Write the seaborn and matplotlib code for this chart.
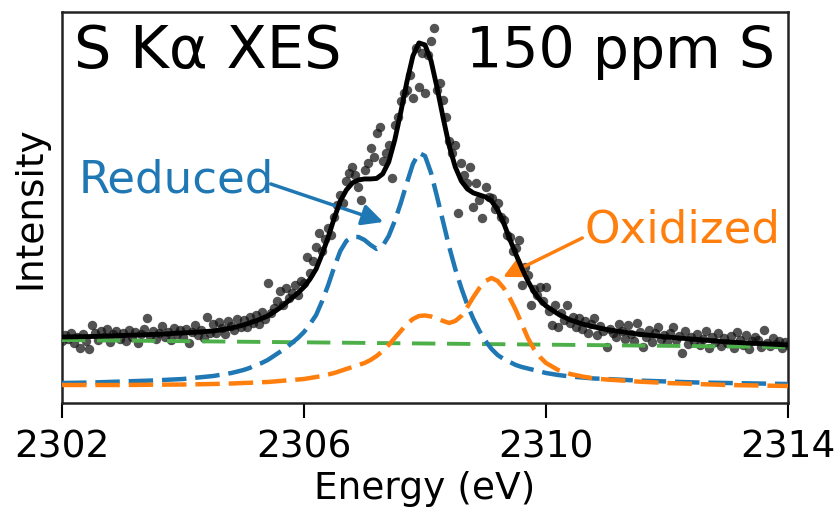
import numpy as np
import pandas as pd
import seaborn as sns
import matplotlib.pyplot as plt

# fit curves (energy in eV, intensity in arbitrary units)
fit_energy = [2302.0, 2302.5, 2303.0, 2303.5, 2304.0, 2304.5, 2304.8,
              2305.0, 2305.1, 2305.2, 2305.3, 2305.4, 2305.5, 2305.6, 2305.7, 2305.8, 2305.9,
              2306.0, 2306.1, 2306.2, 2306.3, 2306.4, 2306.5, 2306.6, 2306.7, 2306.8, 2306.9,
              2307.0, 2307.1, 2307.2, 2307.3, 2307.4, 2307.5, 2307.6, 2307.7, 2307.8, 2307.9,
              2308.0, 2308.1, 2308.2, 2308.3, 2308.4, 2308.5, 2308.6, 2308.7, 2308.8, 2308.9,
              2309.0, 2309.1, 2309.2, 2309.3, 2309.4, 2309.5, 2309.6, 2309.7, 2309.8, 2309.9,
              2310.0, 2310.2, 2310.4, 2310.6, 2310.8, 2311.0, 2311.5, 2312.0, 2312.5, 2313.0,
              2313.5, 2314.0]
total_fit = [0.66, 0.665, 0.675, 0.685, 0.70, 0.72, 0.75,
             0.78, 0.80, 0.82, 0.845, 0.87, 0.91, 0.95, 1.00, 1.05, 1.10,
             1.16, 1.24, 1.34, 1.49, 1.66, 1.85, 2.02, 2.13, 2.20, 2.23,
             2.24, 2.24, 2.245, 2.29, 2.41, 2.63, 2.91, 3.21, 3.47, 3.60,
             3.58, 3.42, 3.15, 2.85, 2.57, 2.36, 2.22, 2.14, 2.10, 2.08,
             2.06, 2.02, 1.93, 1.80, 1.64, 1.49, 1.35, 1.22, 1.11, 1.03,
             0.97, 0.89, 0.83, 0.79, 0.76, 0.735, 0.69, 0.66, 0.635, 0.61,
             0.595, 0.58]
reduced = [0.20, 0.205, 0.215, 0.225, 0.24, 0.27, 0.30,
           0.33, 0.35, 0.38, 0.40, 0.43, 0.47, 0.51, 0.55, 0.60, 0.65,
           0.71, 0.79, 0.88, 1.02, 1.18, 1.36, 1.52, 1.62, 1.66, 1.66,
           1.63, 1.58, 1.54, 1.57, 1.67, 1.82, 2.00, 2.20, 2.39, 2.50,
           2.47, 2.30, 2.06, 1.81, 1.56, 1.34, 1.15, 0.98, 0.84, 0.72,
           0.62, 0.54, 0.48, 0.44, 0.41, 0.38, 0.36, 0.345, 0.33, 0.315,
           0.30, 0.28, 0.265, 0.255, 0.245, 0.24, 0.225, 0.215, 0.205, 0.20,
           0.195, 0.19]
oxidized = [0.18, 0.18, 0.18, 0.183, 0.185, 0.19, 0.195,
            0.20, 0.202, 0.205, 0.208, 0.21, 0.215, 0.22, 0.225, 0.23, 0.235,
            0.24, 0.25, 0.26, 0.27, 0.285, 0.30, 0.32, 0.34, 0.36, 0.38,
            0.40, 0.43, 0.47, 0.52, 0.58, 0.65, 0.72, 0.79, 0.84, 0.87,
            0.875, 0.865, 0.845, 0.82, 0.80, 0.82, 0.87, 0.96, 1.06, 1.15,
            1.22, 1.25, 1.22, 1.15, 1.05, 0.93, 0.79, 0.65, 0.54, 0.46,
            0.40, 0.33, 0.29, 0.265, 0.245, 0.235, 0.215, 0.20, 0.19, 0.18,
            0.175, 0.17]
bg_energy = [2302.0, 2314.0]
background = [0.63, 0.56]

# measured spectrum
scan_energy = [
    2302.00, 2302.05, 2302.10, 2302.15, 2302.20, 2302.25, 2302.30, 2302.35, 2302.40, 2302.45,
    2302.50, 2302.55, 2302.60, 2302.65, 2302.70, 2302.75, 2302.80, 2302.85, 2302.90, 2302.95,
    2303.00, 2303.05, 2303.10, 2303.15, 2303.20, 2303.25, 2303.30, 2303.35, 2303.40, 2303.45,
    2303.50, 2303.55, 2303.60, 2303.65, 2303.70, 2303.75, 2303.80, 2303.85, 2303.90, 2303.95,
    2304.00, 2304.05, 2304.10, 2304.15, 2304.20, 2304.25, 2304.30, 2304.35, 2304.40, 2304.45,
    2304.50, 2304.55, 2304.60, 2304.65, 2304.70, 2304.75, 2304.80, 2304.85, 2304.90, 2304.95,
    2305.00, 2305.05, 2305.10, 2305.15, 2305.20, 2305.25, 2305.30, 2305.35, 2305.40, 2305.45,
    2305.50, 2305.55, 2305.60, 2305.65, 2305.70, 2305.75, 2305.80, 2305.85, 2305.90, 2305.95,
    2306.00, 2306.05, 2306.10, 2306.15, 2306.20, 2306.25, 2306.30, 2306.35, 2306.40, 2306.45,
    2306.50, 2306.55, 2306.60, 2306.65, 2306.70, 2306.75, 2306.80, 2306.85, 2306.90, 2306.95,
    2307.00, 2307.05, 2307.10, 2307.15, 2307.20, 2307.25, 2307.30, 2307.35, 2307.40, 2307.45,
    2307.50, 2307.55, 2307.60, 2307.65, 2307.70, 2307.75, 2307.80, 2307.85, 2307.90, 2307.95,
    2308.00, 2308.05, 2308.10, 2308.15, 2308.20, 2308.25, 2308.30, 2308.35, 2308.40, 2308.45,
    2308.50, 2308.55, 2308.60, 2308.65, 2308.70, 2308.75, 2308.80, 2308.85, 2308.90, 2308.95,
    2309.00, 2309.05, 2309.10, 2309.15, 2309.20, 2309.25, 2309.30, 2309.35, 2309.40, 2309.45,
    2309.50, 2309.55, 2309.60, 2309.65, 2309.70, 2309.75, 2309.80, 2309.85, 2309.90, 2309.95,
    2310.00, 2310.05, 2310.10, 2310.15, 2310.20, 2310.25, 2310.30, 2310.35, 2310.40, 2310.45,
    2310.50, 2310.55, 2310.60, 2310.65, 2310.70, 2310.75, 2310.80, 2310.85, 2310.90, 2310.95,
    2311.00, 2311.05, 2311.10, 2311.15, 2311.20, 2311.25, 2311.30, 2311.35, 2311.40, 2311.45,
    2311.50, 2311.55, 2311.60, 2311.65, 2311.70, 2311.75, 2311.80, 2311.85, 2311.90, 2311.95,
    2312.00, 2312.05, 2312.10, 2312.15, 2312.20, 2312.25, 2312.30, 2312.35, 2312.40, 2312.45,
    2312.50, 2312.55, 2312.60, 2312.65, 2312.70, 2312.75, 2312.80, 2312.85, 2312.90, 2312.95,
    2313.00, 2313.05, 2313.10, 2313.15, 2313.20, 2313.25, 2313.30, 2313.35, 2313.40, 2313.45,
    2313.50, 2313.55, 2313.60, 2313.65, 2313.70, 2313.75, 2313.80, 2313.85, 2313.90, 2313.95,
    2314.00]
scan_counts = [
    0.62, 0.68, 0.64, 0.70, 0.60, 0.66, 0.55, 0.69, 0.62, 0.54,
    0.78, 0.70, 0.63, 0.72, 0.66, 0.74, 0.61, 0.69, 0.72, 0.64,
    0.70, 0.62, 0.73, 0.66, 0.71, 0.60, 0.69, 0.74, 0.85, 0.67,
    0.72, 0.64, 0.70, 0.77, 0.66, 0.71, 0.63, 0.75, 0.69, 0.73,
    0.66, 0.74, 0.60, 0.71, 0.78, 0.68, 0.73, 0.65, 0.86, 0.70,
    0.79, 0.70, 0.81, 0.75, 0.69, 0.82, 0.77, 0.73, 0.84, 0.76,
    0.83, 0.76, 0.86, 0.80, 0.88, 0.79, 0.91, 0.84, 1.20, 0.90,
    0.95, 1.02, 1.12, 0.98, 1.15, 1.05, 1.10, 1.18, 1.08, 1.22,
    1.20, 1.46, 1.30, 1.42, 1.56, 1.70, 1.52, 1.64, 1.75, 1.68,
    1.86, 1.98, 2.08, 2.00, 2.22, 2.30, 2.36, 2.28, 2.16, 2.03,
    2.33, 2.40, 2.55, 2.46, 2.70, 2.76, 2.42, 2.50, 2.58, 2.25,
    2.78, 2.86, 3.02, 3.10, 3.13, 3.28, 3.05, 3.55, 3.16, 3.50,
    3.10, 3.48, 3.62, 3.75, 3.13, 3.20, 3.03, 2.86, 2.62, 2.50,
    2.58, 1.90, 2.40, 2.28, 2.20, 2.36, 1.96, 2.20, 2.03, 1.85,
    2.16, 2.06, 2.05, 1.94, 2.00, 1.86, 1.83, 1.68, 1.66, 1.52,
    1.55, 1.63, 1.18, 1.36, 1.28, 0.98, 1.14, 1.08, 1.16, 1.02,
    1.16, 0.92, 0.78, 0.98, 0.76, 0.90, 0.83, 0.98, 0.80, 0.86,
    0.76, 0.85, 0.74, 0.82, 0.70, 0.79, 0.85, 0.68, 0.77, 0.72,
    0.56, 0.74, 0.70, 0.66, 0.79, 0.72, 0.64, 0.78, 0.69, 0.62,
    0.80, 0.71, 0.56, 0.66, 0.73, 0.61, 0.70, 0.76, 0.64, 0.68,
    0.61, 0.70, 0.76, 0.63, 0.67, 0.50, 0.72, 0.59, 0.66, 0.62,
    0.69, 0.58, 0.64, 0.72, 0.55, 0.66, 0.61, 0.70, 0.57, 0.65,
    0.60, 0.67, 0.55, 0.71, 0.63, 0.58, 0.68, 0.54, 0.62, 0.66,
    0.63, 0.56, 0.73, 0.60, 0.57, 0.65, 0.59, 0.62, 0.55, 0.61,
    0.58]

x_ticks = [2302, 2306, 2310, 2314]

sns.set_style("ticks")
plt.rcParams['font.family'] = ['DejaVu Sans']
plt.rcParams['text.color'] = 'black'
plt.rcParams['axes.labelcolor'] = 'black'
plt.rcParams['xtick.color'] = 'black'

fig = plt.figure(figsize=(8.35, 5.18), dpi=100)
ax = fig.add_axes([0.0743, 0.222, 0.8694, 0.755])

blue = '#1f77b4'
orange = '#ff7f0e'
green = '#4daf4a'

sns.scatterplot(x=scan_energy, y=scan_counts, ax=ax, color='#111111', alpha=0.72,
                s=46, linewidth=0, zorder=2)
sns.lineplot(x=bg_energy, y=background, ax=ax, color=green, lw=2.8,
             linestyle=(0, (6, 3)), zorder=3)
sns.lineplot(x=fit_energy, y=reduced, ax=ax, color=blue, lw=3.2,
             linestyle=(0, (5.5, 2)), zorder=4, sort=False)
sns.lineplot(x=fit_energy, y=oxidized, ax=ax, color=orange, lw=3.2,
             linestyle=(0, (5.5, 2)), zorder=5, sort=False)
sns.lineplot(x=fit_energy, y=total_fit, ax=ax, color='black', lw=3.5,
             zorder=6, sort=False)

ax.text(0.017, 0.857, 'S Kα XES', transform=ax.transAxes, fontsize=42.5,
        ha='left', va='baseline')
ax.text(0.982, 0.857, '150 ppm S', transform=ax.transAxes, fontsize=41,
        ha='right', va='baseline')

ax.text(2302.28, 2.10, 'Reduced', color=blue, fontsize=32.5, ha='left', va='baseline')
ax.annotate('', xy=(2307.31, 1.81), xytext=(2305.45, 2.19),
            arrowprops=dict(arrowstyle='-|>', color=blue, lw=2.5, mutation_scale=32,
                            shrinkA=0, shrinkB=0))
ax.text(2310.64, 1.60, 'Oxidized', color=orange, fontsize=32.5, ha='left', va='baseline')
ax.annotate('', xy=(2309.29, 1.26), xytext=(2310.60, 1.65),
            arrowprops=dict(arrowstyle='-|>', color=orange, lw=2.5, mutation_scale=32,
                            shrinkA=0, shrinkB=0))

ax.set_xlim(2302, 2314)
ax.set_ylim(0, 3.91)
ax.set_xticks(x_ticks)
ax.set_xticklabels([str(t) for t in x_ticks])
ax.set_yticks([])
ax.tick_params(axis='x', labelsize=27, length=11, width=1.5, pad=8)
ax.set_xlabel('Energy (eV)', fontsize=27, labelpad=4)
ax.set_ylabel('Intensity', fontsize=27, labelpad=10)
for sp in ax.spines.values():
    sp.set_linewidth(1.8)
    sp.set_color('#222222')

fig.savefig('out.png', dpi=100)
